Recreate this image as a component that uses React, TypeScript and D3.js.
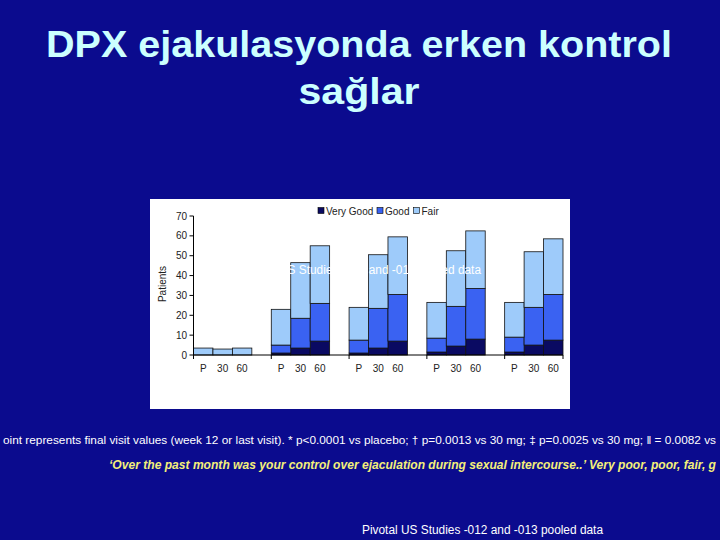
import React from 'react';
import * as d3 from 'd3';

// visits (no labels shown on the slide) and doses within each visit
const visits = ['Baseline', 'Week 4', 'Week 8', 'Week 12', 'Endpoint'];
const doses = ['P', '30', '60'];
const ratings = ['Very Good', 'Good', 'Fair'];
const yTicks = [0, 10, 20, 30, 40, 50, 60, 70];

// patients per rating, one row per visit, columns P / 30 / 60
const veryGood = [
  [0, 0, 0],
  [1, 3.5, 7],
  [1, 3.5, 7],
  [1.5, 4.5, 8],
  [1.5, 5, 7.5],
];
const good = [
  [0, 0, 0],
  [4, 15, 19],
  [6.5, 20, 23.5],
  [7, 20, 25.5],
  [7.5, 19, 23],
];
const fair = [
  [3.5, 3, 3.5],
  [18, 28, 29],
  [16.5, 27, 29],
  [18, 28, 29],
  [17.5, 28, 28],
];

const title1 = 'DPX ejakulasyonda erken kontrol';
const title2 = 'sağlar';
const footnote =
  'oint represents final visit values (week 12 or last visit). * p<0.0001 vs placebo; † p=0.0013 vs 30 mg; ‡ p=0.0025 vs 30 mg; ‖ = 0.0082 vs';
const question =
  '‘Over the past month was your control over ejaculation during sexual intercourse..’  Very poor, poor, fair, g';
const source = 'Pivotal US Studies -012 and -013 pooled data';

const colors = ['#0a0a62', '#3a62f2', '#9ecbfa'];
const font = '"Liberation Sans", Arial, sans-serif';

const App = () => {
  const x = d3.scaleBand<string>().domain(visits).range([193.5, 563]).paddingInner(0.25).paddingOuter(0);
  const xd = d3.scaleBand<string>().domain(doses).range([0, x.bandwidth()]);
  const y = d3.scaleLinear().domain([0, 70]).range([355, 216]);
  const color = d3.scaleOrdinal<string, string>().domain(ratings).range(colors);

  const rows = visits.flatMap((v, i) =>
    doses.map((d, j) => ({ visit: v, dose: d, 'Very Good': veryGood[i][j], Good: good[i][j], Fair: fair[i][j] }))
  );
  const stacked = d3.stack<any>().keys(ratings)(rows);

  const legendX = [318, 377, 413.5];
  const tickXs = [...visits.map(v => x(v)!), x.range()[1]];

  return (
    <svg width={720} height={540} style={{ position: 'fixed', left: 0, top: 0 }} fontFamily={font}>
      <rect width={720} height={540} fill="#0b0b8e" />

      <text x={359} y={57} textAnchor="middle" fontSize={37} fontWeight="bold" fill="#ccffff" textLength={626} lengthAdjust="spacingAndGlyphs">
        {title1}
      </text>
      <text x={359} y={104} textAnchor="middle" fontSize={37} fontWeight="bold" fill="#ccffff" textLength={121} lengthAdjust="spacingAndGlyphs">
        {title2}
      </text>

      <rect x={150} y={199} width={420} height={210} fill="#ffffff" />

      {/* legend */}
      {ratings.map((r, i) => (
        <g key={r} transform={`translate(${legendX[i]},211)`}>
          <rect x={0} y={-3.5} width={6} height={6} fill={color(r)} stroke="#000" strokeWidth={0.6} />
          <text x={8} y={3.5} fontSize={10} fill="#222">{r}</text>
        </g>
      ))}

      {/* bars */}
      {stacked.map(layer => (
        <g key={layer.key} fill={color(layer.key)}>
          {layer.map(s => {
            const h = y(s[0]) - y(s[1]);
            if (h <= 0) return null;
            return (
              <rect
                key={s.data.visit + s.data.dose}
                x={x(s.data.visit)! + xd(s.data.dose)!}
                y={y(s[1])}
                width={xd.bandwidth()}
                height={h}
                stroke="#111"
                strokeWidth={0.8}
              />
            );
          })}
        </g>
      ))}

      {/* white slide text showing through the chart */}
      <text x={360.5} y={274} textAnchor="middle" fontSize={12} fill="#ffffff" textLength={241} lengthAdjust="spacingAndGlyphs">
        {source}
      </text>

      {/* y axis */}
      <line x1={193.5} x2={193.5} y1={y(70)} y2={y(0)} stroke="#000" />
      {yTicks.map(t => (
        <g key={t}>
          <line x1={189.5} x2={193.5} y1={y(t)} y2={y(t)} stroke="#000" />
          <text x={187} y={y(t) + 3.5} textAnchor="end" fontSize={10} fill="#222">{t}</text>
        </g>
      ))}
      <text transform="translate(166,284) rotate(-90)" textAnchor="middle" fontSize={10} fill="#222">Patients</text>

      {/* x axis */}
      <line x1={x.range()[0]} x2={x.range()[1]} y1={y(0)} y2={y(0)} stroke="#000" />
      {tickXs.map((tx, i) => (
        <line key={i} x1={tx} x2={tx} y1={y(0)} y2={y(0) + 4} stroke="#000" />
      ))}
      {visits.map(v =>
        doses.map(d => (
          <text key={v + d} x={x(v)! + xd(d)! + xd.bandwidth() / 2} y={372} textAnchor="middle" fontSize={10} fill="#222">
            {d}
          </text>
        ))
      )}

      {/* notes */}
      <text x={3} y={444} fontSize={11.5} fill="#ffffff" textLength={713} lengthAdjust="spacingAndGlyphs">
        {footnote}
      </text>
      <text x={109} y={469} fontSize={12} fontWeight="bold" fontStyle="italic" fill="#f4f07a" textLength={607} lengthAdjust="spacingAndGlyphs">
        {question}
      </text>
      <text x={482.5} y={534} textAnchor="middle" fontSize={12} fill="#ffffff" textLength={241} lengthAdjust="spacingAndGlyphs">
        {source}
      </text>
    </svg>
  );
};

export default App;
